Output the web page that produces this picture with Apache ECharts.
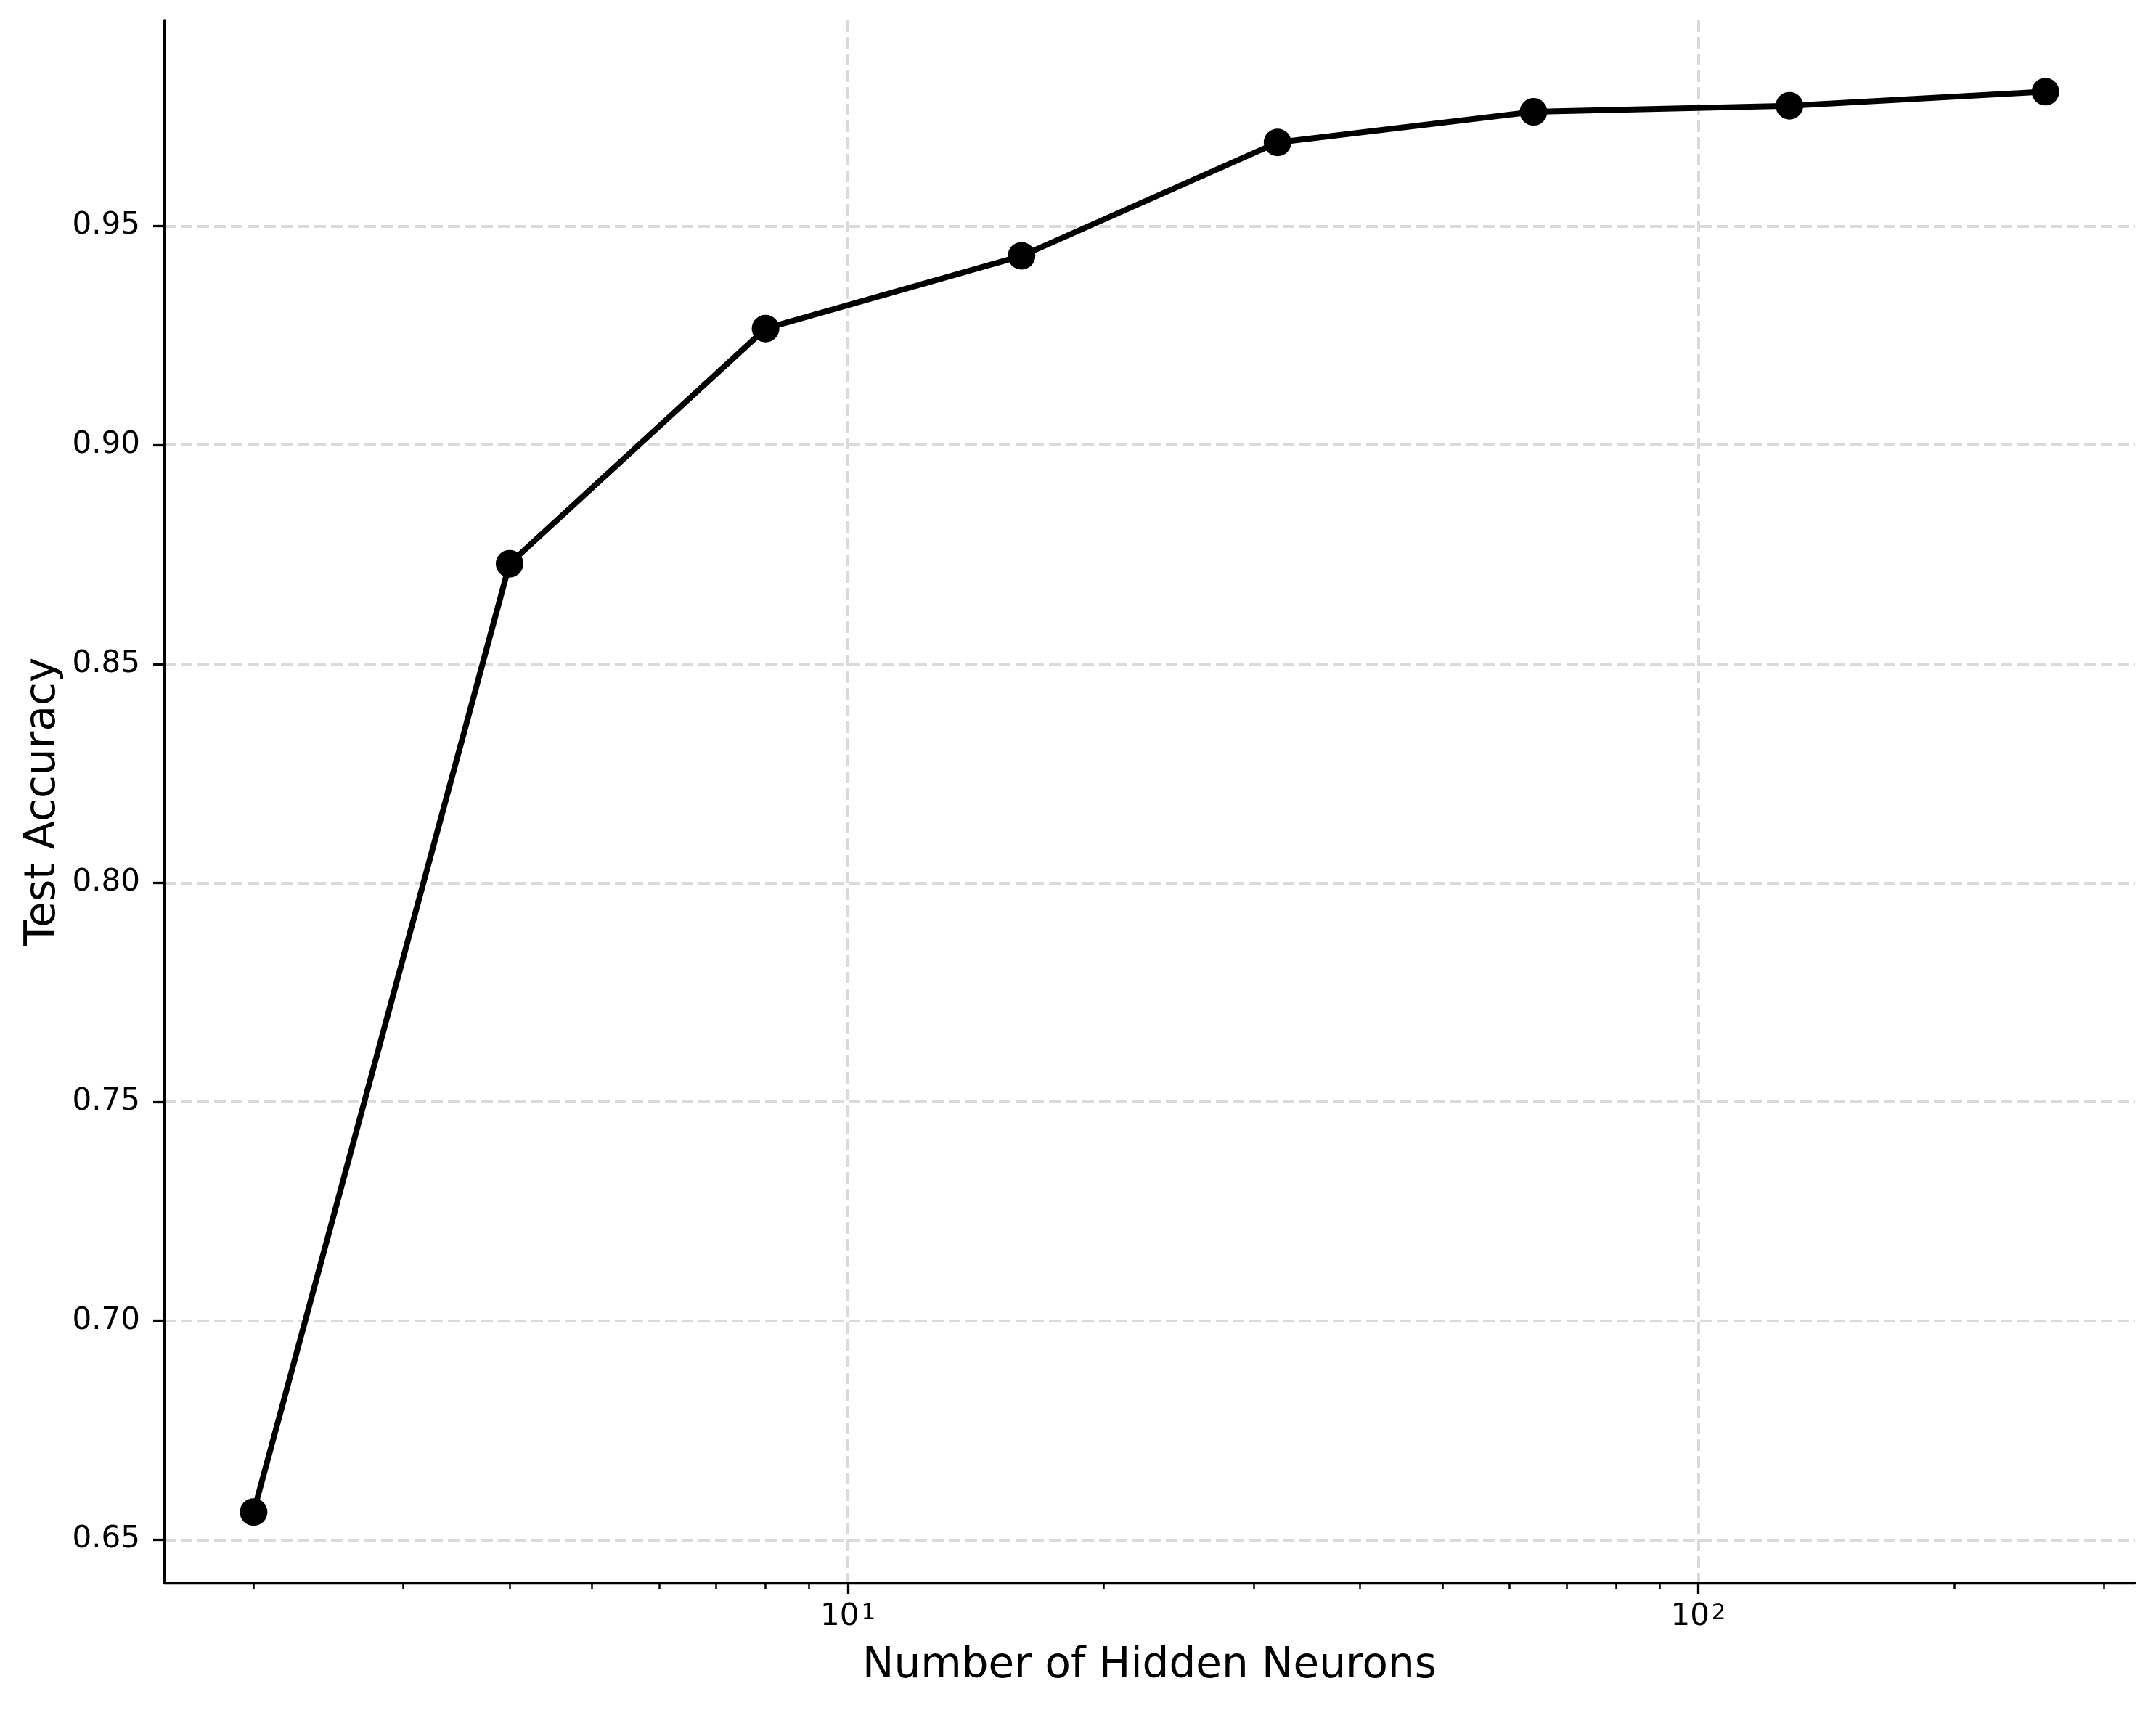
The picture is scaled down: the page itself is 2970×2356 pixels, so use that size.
<!DOCTYPE html>
<html>
<head>
<meta charset="utf-8">
<script src="https://cdn.jsdelivr.net/npm/echarts@6/dist/echarts.min.js"></script>
<style>
html,body{margin:0;padding:0;background:#fff;}
#chart{width:2970px;height:2356px;}
</style>
</head>
<body>
<div id="chart"></div>
<script>
// Data
const hiddenNeurons = [2, 4, 8, 16, 32, 64, 128, 256];
const testAccuracy = [0.6563, 0.8729, 0.9266, 0.9432, 0.9691, 0.9761, 0.9775, 0.9807];
const xMajorTicks = [10, 100];
const xMinorTicks = [2, 3, 4, 5, 6, 7, 8, 9, 20, 30, 40, 50, 60, 70, 80, 90, 200, 300];
const yTicks = [0.65, 0.70, 0.75, 0.80, 0.85, 0.90, 0.95];
const xLabel = 'Number of Hidden Neurons';
const yLabel = 'Test Accuracy';

const FONT = 'DejaVu Sans';
const chart = echarts.init(document.getElementById('chart'), null, {renderer: 'canvas', devicePixelRatio: 1});

const seriesData = hiddenNeurons.map((x, i) => [x, testAccuracy[i]]);

const gridLine = {show: true, lineStyle: {color: '#dadada', width: 4, type: [16, 7]}};

chart.setOption({
  animation: false,
  backgroundColor: '#ffffff',
  grid: {left: 226, top: 28, width: 2715, height: 2153, containLabel: false},
  xAxis: [
    {
      type: 'log', logBase: 10, min: 1.5694, max: 326.2, gridIndex: 0, position: 'bottom',
      name: xLabel, nameLocation: 'middle', nameGap: 86,
      nameTextStyle: {fontFamily: FONT, fontSize: 58, color: '#000'},
      axisLine: {show: true, onZero: false, lineStyle: {color: '#000', width: 3.3}},
      axisTick: {show: true, inside: false, length: 15, customValues: xMajorTicks, lineStyle: {color: '#000', width: 3.3}},
      minorTick: {show: false},
      axisLabel: {
        show: true, margin: 26, customValues: xMajorTicks,
        formatter: v => '{b|10}{s|' + Math.round(Math.log10(v)) + '}',
        rich: {
          b: {fontFamily: FONT, fontSize: 42, color: '#000'},
          s: {fontFamily: FONT, fontSize: 31, color: '#000', verticalAlign: 'top', lineHeight: 24, padding: [0, 0, 0, 3]}
        }
      },
      splitLine: gridLine
    },
    {
      type: 'log', logBase: 10, min: 1.5694, max: 326.2, gridIndex: 0, position: 'bottom',
      axisLine: {show: false, onZero: false},
      axisTick: {show: true, inside: false, length: 8, customValues: xMinorTicks, lineStyle: {color: '#000', width: 2.5}},
      axisLabel: {show: false},
      splitLine: {show: false}
    }
  ],
  yAxis: {
    type: 'value', min: 0.6401, max: 0.9970,
    name: yLabel, nameLocation: 'middle', nameGap: 135, nameRotate: 90,
    nameTextStyle: {fontFamily: FONT, fontSize: 58, color: '#000'},
    axisLine: {show: true, onZero: false, lineStyle: {color: '#000', width: 3.3}},
    axisTick: {show: true, inside: false, length: 15, customValues: yTicks, lineStyle: {color: '#000', width: 3.3}},
    axisLabel: {
      show: true, margin: 33, customValues: yTicks,
      fontFamily: FONT, fontSize: 42, color: '#000',
      formatter: v => v.toFixed(2)
    },
    splitLine: gridLine
  },
  series: [{
    type: 'line',
    xAxisIndex: 0,
    data: seriesData,
    symbol: 'circle',
    symbolSize: 38,
    lineStyle: {color: '#000', width: 8},
    itemStyle: {color: '#000'},
    z: 5
  }]
});
</script>
</body>
</html>
